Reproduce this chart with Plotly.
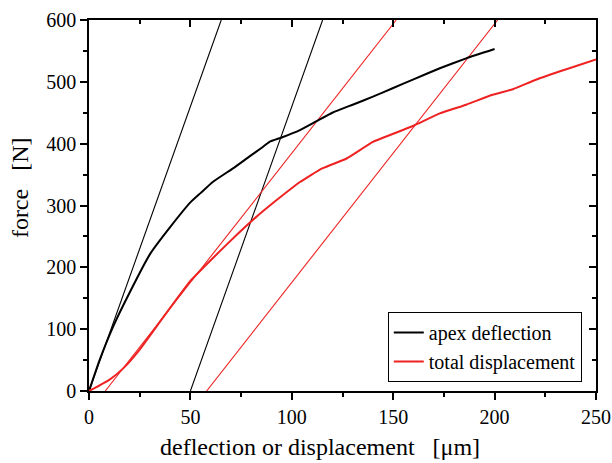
import plotly.graph_objects as go

# apex deflection curve
apex_x = [0, 5, 12, 20, 30, 40, 50, 55, 61, 71, 79, 85, 89, 95, 104, 112, 120, 130, 140, 150, 160, 173, 186, 200]
apex_y = [0, 48, 105, 159, 221, 265, 305, 320, 338, 360, 379, 393, 403, 410, 422, 436, 450, 463, 476, 490, 504, 522, 538, 553]

# total displacement curve
tot_x = [0, 10, 17, 25, 37, 50, 62, 73, 83, 93, 104, 115, 127, 140, 150, 160, 173, 186, 199, 209, 220, 235, 250]
tot_y = [0, 18, 37, 67, 121, 178, 218, 253, 283, 310, 338, 360, 376, 403, 416, 429, 449, 463, 479, 488, 503, 520, 536]

# straight fit lines (start x, end x) reaching 0 -> 600 N
black_fit_x = [[0, 65.2], [50, 115.2]]
red_fit_x = [[8, 151.5], [58, 201.5]]
fit_y = [0, 600]

x_ticks = [0, 50, 100, 150, 200, 250]
y_ticks = [0, 100, 200, 300, 400, 500, 600]

FONT = "Liberation Serif"

fig = go.Figure()
for xs in black_fit_x:
    fig.add_trace(go.Scatter(x=xs, y=fit_y, mode="lines", line=dict(color="black", width=1.1),
                             showlegend=False, hoverinfo="skip"))
for xs in red_fit_x:
    fig.add_trace(go.Scatter(x=xs, y=fit_y, mode="lines", line=dict(color="#ee2222", width=1.1),
                             showlegend=False, hoverinfo="skip"))
fig.add_trace(go.Scatter(x=apex_x, y=apex_y, mode="lines", name="apex deflection",
                         line=dict(color="black", width=2, shape="spline", smoothing=0.4)))
fig.add_trace(go.Scatter(x=tot_x, y=tot_y, mode="lines", name="total displacement",
                         line=dict(color="#ee2222", width=2, shape="spline", smoothing=0.4)))
# dummy trace for mirrored axes
fig.add_trace(go.Scatter(x=[], y=[], xaxis="x2", yaxis="y2", showlegend=False, hoverinfo="skip"))

axis_common = dict(showgrid=False, zeroline=False, showline=True, linecolor="black", linewidth=1.5,
                   tickcolor="black", tickwidth=1.5, ticklen=7, automargin=False,
                   tickfont=dict(family=FONT, size=20, color="black"))

fig.update_layout(
    width=612, height=463,
    margin=dict(l=89, r=16, t=20, b=72),
    paper_bgcolor="white", plot_bgcolor="white",
    font=dict(family=FONT, color="black"),
    xaxis=dict(range=[0, 250], tickvals=x_ticks, ticks="outside",
               minor=dict(dtick=25, ticks="outside", ticklen=4, tickwidth=1.5, tickcolor="black"),
               **axis_common),
    yaxis=dict(range=[0, 600], tickvals=y_ticks, ticks="outside",
               minor=dict(dtick=50, ticks="outside", ticklen=4, tickwidth=1.5, tickcolor="black"),
               **axis_common),
    xaxis2=dict(range=[0, 250], overlaying="x", side="top", tickvals=x_ticks, ticks="inside",
                showticklabels=False,
                minor=dict(dtick=25, ticks="inside", ticklen=4, tickwidth=1.5, tickcolor="black"),
                **axis_common),
    yaxis2=dict(range=[0, 600], overlaying="y", side="right", tickvals=y_ticks, ticks="inside",
                showticklabels=False,
                minor=dict(dtick=50, ticks="inside", ticklen=4, tickwidth=1.5, tickcolor="black"),
                **axis_common),
    legend=dict(x=0.972, y=0.024, xanchor="right", yanchor="bottom",
                bordercolor="black", borderwidth=1, bgcolor="white",
                font=dict(family=FONT, size=20, color="black"),
                tracegroupgap=0, itemwidth=30),
    showlegend=True,
    annotations=[
        dict(text="deflection or displacement\u00a0\u00a0\u00a0[μm]", xref="paper", yref="paper",
             x=0.4555, y=-0.151, xanchor="center", yanchor="middle", showarrow=False,
             font=dict(family=FONT, size=24, color="black")),
        dict(text="force\u00a0\u00a0\u00a0[N]", xref="paper", yref="paper", textangle=-90,
             x=-0.136, y=0.547, xanchor="center", yanchor="middle", showarrow=False,
             font=dict(family=FONT, size=24, color="black")),
    ],
)

fig.write_html("out.html")
